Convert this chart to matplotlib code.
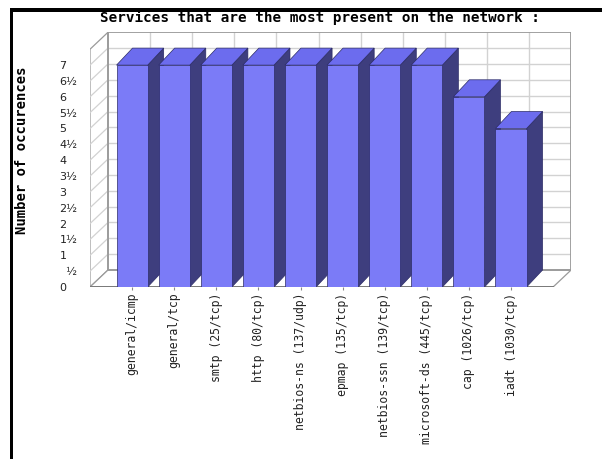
import matplotlib
matplotlib.use("Agg")
import matplotlib.pyplot as plt
from matplotlib.patches import Polygon, Rectangle

services = ["general/icmp", "general/tcp", "smtp (25/tcp)", "http (80/tcp)",
            "netbios-ns (137/udp)", "epmap (135/tcp)", "netbios-ssn (139/tcp)",
            "microsoft-ds (445/tcp)", "cap (1026/tcp)", "iadt (1030/tcp)"]
occurrences = [7, 7, 7, 7, 7, 7, 7, 7, 6, 5]

y_ticks = [0, 0.5, 1, 1.5, 2, 2.5, 3, 3.5, 4, 4.5, 5, 5.5, 6, 6.5, 7]
y_tick_labels = ["0", "\u2007\u00bd", "1", "1\u00bd", "2", "2\u00bd", "3", "3\u00bd",
                 "4", "4\u00bd", "5", "5\u00bd", "6", "6\u00bd", "7"]

# layout in pixels
W, H = 602, 459
X0, Y0 = 90, 287          # front-left corner of the floor
SLOT, UNIT = 42.1, 31.7   # px per category slot / per value unit
DEPTH_PX = (18, 17)       # depth offset of the walls
BAR_DEPTH_PX = (16, 17)
BAR_W = 0.74
Y_TOP = 7.5
N_SLOTS = len(services) + 1

DX, DY = DEPTH_PX[0] / SLOT, DEPTH_PX[1] / UNIT
BDX, BDY = BAR_DEPTH_PX[0] / SLOT, BAR_DEPTH_PX[1] / UNIT

FRONT = "#7b7bf7"
TOP = "#6c6cee"
SIDE = "#3e3e7e"
EDGE = "#2c2c66"
GRID = "#d2d2d2"
FRAME = "#9a9a9a"

fig = plt.figure(figsize=(W / 100, H / 100), dpi=100)
ax_w = N_SLOTS * SLOT + DEPTH_PX[0]
ax_h = Y_TOP * UNIT + DEPTH_PX[1]
ax = fig.add_axes([X0 / W, (H - Y0) / H, ax_w / W, ax_h / H])
ax.set_xlim(0, N_SLOTS + DX)
ax.set_ylim(0, Y_TOP + DY)
for s in ax.spines.values():
    s.set_visible(False)

# back wall with grid
ax.add_patch(Rectangle((DX, DY), N_SLOTS, Y_TOP, facecolor="white",
                       edgecolor="none", zorder=0))
for yv in y_ticks[1:]:
    ax.plot([DX, N_SLOTS + DX], [yv + DY, yv + DY], color=GRID, lw=1.0, zorder=1)
for xv in range(1, N_SLOTS):
    ax.plot([xv + DX, xv + DX], [DY, Y_TOP + DY], color=GRID, lw=1.0, zorder=1)

# left wall with slanted grid
ax.add_patch(Polygon([(0, 0), (DX, DY), (DX, Y_TOP + DY), (0, Y_TOP)],
                     closed=True, facecolor="white", edgecolor=FRAME, lw=0.9, zorder=1))
for yv in y_ticks[1:]:
    ax.plot([0, DX], [yv, yv + DY], color=GRID, lw=0.9, zorder=1)

# floor
ax.add_patch(Polygon([(0, 0), (N_SLOTS, 0), (N_SLOTS + DX, DY), (DX, DY)],
                     closed=True, facecolor="white", edgecolor=FRAME, lw=0.9, zorder=1))

# back wall outline
ax.add_patch(Rectangle((DX, DY), N_SLOTS, Y_TOP, facecolor="none",
                       edgecolor=FRAME, lw=1.3, zorder=2))
ax.plot([0, N_SLOTS], [0, 0], color="#7a7a7a", lw=1.4, zorder=2)

# 3d bars
for i, v in enumerate(occurrences):
    xl = i + 1 - BAR_W / 2
    xr = i + 1 + BAR_W / 2
    z = 3 + i
    ax.add_patch(Polygon([(xr, 0), (xr + BDX, BDY), (xr + BDX, v + BDY), (xr, v)],
                         closed=True, facecolor=SIDE, edgecolor=EDGE, lw=0.5, zorder=z))
    ax.add_patch(Polygon([(xl, v), (xr, v), (xr + BDX, v + BDY), (xl + BDX, v + BDY)],
                         closed=True, facecolor=TOP, edgecolor=EDGE, lw=0.5, zorder=z))
    ax.add_patch(Rectangle((xl, 0), BAR_W, v, facecolor=FRONT, edgecolor=EDGE,
                           lw=0.5, zorder=z))

ax.set_yticks(y_ticks)
ax.set_yticklabels(y_tick_labels, fontsize=8, ha="left", color="#222222")
ax.tick_params(axis="y", length=0, pad=22)

ax.set_xticks(range(1, len(services) + 1))
ax.set_xticklabels(services, rotation=90, fontsize=8.3, family="DejaVu Sans Mono",
                   color="#222222")
ax.tick_params(axis="x", length=2.5, width=0.8, color="#888888", pad=1.5)

fig.text(320 / W, 1 - 18 / H, "Services that are the most present on the network :",
         ha="center", va="center", fontsize=10.3, fontweight="bold",
         family="DejaVu Sans Mono")
fig.text(22 / W, 1 - 150 / H, "Number of occurences", rotation=90,
         ha="center", va="center", fontsize=10, fontweight="bold",
         family="DejaVu Sans Mono")

# outer frame (top and left edges)
fig.add_artist(Rectangle((10 / W, 0), 3 / W, 1 - 8 / H, transform=fig.transFigure,
                         facecolor="black", edgecolor="none"))
fig.add_artist(Rectangle((10 / W, 1 - 12 / H), 1, 4 / H, transform=fig.transFigure,
                         facecolor="black", edgecolor="none"))

fig.savefig("out.png", dpi=100)
